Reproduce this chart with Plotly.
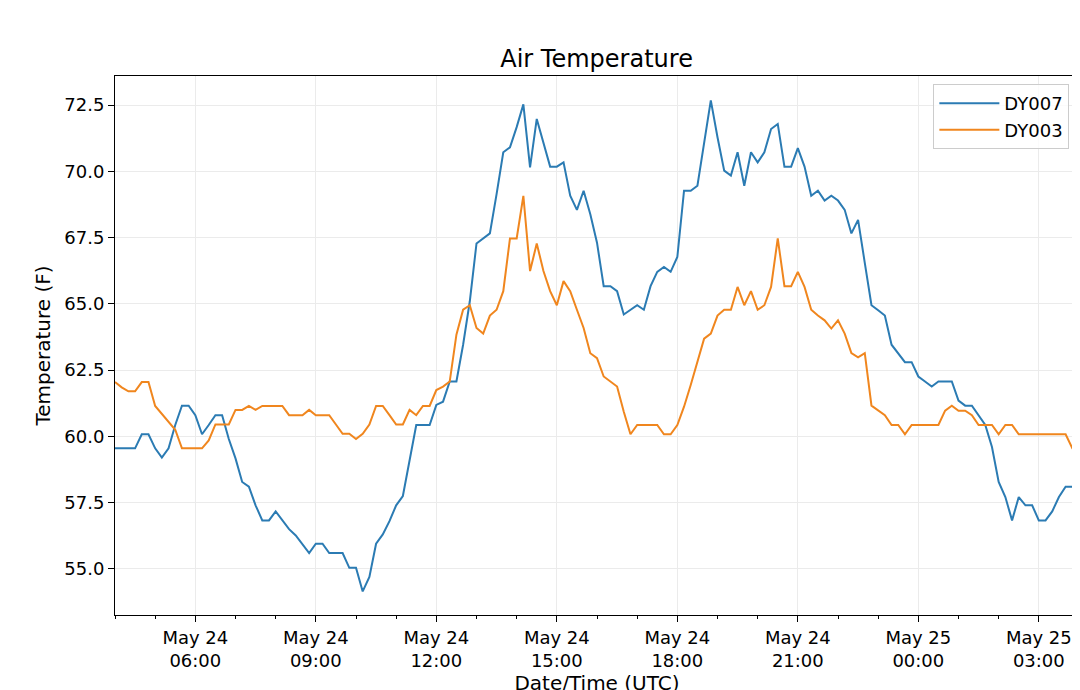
import pandas as pd
import plotly.graph_objects as go

times = pd.date_range("2019-05-24 04:00", periods=145, freq="10min")

dy007 = [59.55, 59.55, 59.55, 59.55, 60.08, 60.08, 59.55, 59.2, 59.55, 60.43, 61.16, 61.16,
         60.8, 60.08, 60.43, 60.8, 60.8, 59.9, 59.17, 58.28, 58.1, 57.4, 56.83, 56.83,
         57.17, 56.83, 56.5, 56.26, 55.95, 55.6, 55.95, 55.95, 55.6, 55.6, 55.6, 55.04,
         55.04, 54.15, 54.7, 55.95, 56.3, 56.8, 57.4, 57.75, 59.04, 60.43, 60.43, 60.43,
         61.19, 61.31, 62.07, 62.07, 63.46, 65.1, 67.28, 67.47, 67.66, 69.14, 70.72, 70.91,
         71.67, 72.53, 70.15, 71.98, 71.1, 70.18, 70.18, 70.34, 69.08, 68.55, 69.27, 68.38,
         67.31, 65.67, 65.67, 65.48, 64.6, 64.78, 64.95, 64.78, 65.67, 66.21, 66.39, 66.21,
         66.77, 69.27, 69.27, 69.46, 71.1, 72.68, 71.29, 70.03, 69.84, 70.72, 69.46,
         70.72, 70.34, 70.72, 71.6, 71.79, 70.18, 70.18, 70.88, 70.18, 69.08, 69.27, 68.9,
         69.08, 68.9, 68.55, 67.66, 68.17, 66.55, 64.95, 64.76, 64.56, 63.46, 63.14, 62.8,
         62.8, 62.26, 62.07, 61.88, 62.07, 62.07, 62.07, 61.35, 61.16, 61.16, 60.8, 60.43,
         59.6, 58.28, 57.71, 56.83, 57.71, 57.4, 57.4, 56.83, 56.83, 57.17, 57.71, 58.1,
         58.1, 57.75]

dy003 = [62.05, 61.85, 61.7, 61.7, 62.05, 62.05, 61.15, 60.85, 60.55, 60.25, 59.55, 59.55,
         59.55, 59.55, 59.85, 60.45, 60.45, 60.45, 61.0, 61.0, 61.15, 61.0, 61.15, 61.15,
         61.15, 61.15, 60.8, 60.8, 60.8, 61.0, 60.8, 60.8, 60.8, 60.45, 60.1, 60.1,
         59.9, 60.1, 60.45, 61.15, 61.15, 60.8, 60.45, 60.45, 61.0, 60.8, 61.15, 61.15,
         61.75, 61.88, 62.07, 63.84, 64.78, 64.95, 64.09, 63.88, 64.56, 64.78, 65.48, 67.47,
         67.47, 69.08, 66.24, 67.28, 66.24, 65.48, 64.95, 65.86, 65.48, 64.78, 64.09, 63.14,
         62.95, 62.26, 62.07, 61.88, 60.93, 60.08, 60.43, 60.43, 60.43, 60.43, 60.08, 60.08,
         60.43, 61.12, 61.94, 62.83, 63.69, 63.88, 64.56, 64.78, 64.78, 65.64, 64.95,
         65.48, 64.78, 64.95, 65.64, 67.47, 65.67, 65.67, 66.21, 65.64, 64.78, 64.56, 64.38,
         64.07, 64.38, 63.88, 63.14, 62.98, 63.14, 61.16, 60.97, 60.8, 60.43, 60.43, 60.08,
         60.43, 60.43, 60.43, 60.43, 60.43, 60.97, 61.16, 60.97, 60.97, 60.8, 60.43, 60.43,
         60.43, 60.08, 60.43, 60.43, 60.08, 60.08, 60.08, 60.08, 60.08, 60.08, 60.08, 60.08,
         59.55, 59.55]

tick_vals = pd.date_range("2019-05-24 06:00", periods=8, freq="3h")
tick_text = [t.strftime("%b %d<br>%H:%M") for t in tick_vals]

fig = go.Figure()
fig.add_trace(go.Scatter(x=times, y=dy007, name="DY007", mode="lines",
                         line=dict(color="#2b7bb3", width=2)))
fig.add_trace(go.Scatter(x=times, y=dy003, name="DY003", mode="lines",
                         line=dict(color="#f0861e", width=2)))

axis_style = dict(showline=True, mirror=True, linecolor="black", linewidth=1,
                  ticks="outside", ticklen=6, tickcolor="black", automargin=False,
                  showgrid=True, gridcolor="#ebebeb", zeroline=False,
                  tickfont=dict(size=18, color="black"))

fig.update_layout(
    title=dict(text="Air Temperature", x=0.545, xanchor="center", y=0.927, yanchor="middle",
               font=dict(size=24, color="black")),
    width=1080, height=690,
    template=None,
    plot_bgcolor="white", paper_bgcolor="white",
    font=dict(family="DejaVu Sans", color="black"),
    margin=dict(l=107, r=9, t=68, b=83),
    legend=dict(x=0.99, y=0.985, xanchor="right", yanchor="top",
                bordercolor="#cccccc", borderwidth=1, bgcolor="rgba(255,255,255,0.8)",
                font=dict(size=18), itemwidth=60),
    xaxis=dict(range=[times[0], times[-1]], tickvals=tick_vals, ticktext=tick_text,
               title=dict(text="Date/Time (UTC)", font=dict(size=20), standoff=2),
               minor=dict(ticks="outside", ticklen=3, dtick=3600000, showgrid=False),
               **axis_style),
    yaxis=dict(range=[53.26, 73.6], tickvals=[55, 57.5, 60, 62.5, 65, 67.5, 70, 72.5],
               ticktext=["55.0", "57.5", "60.0", "62.5", "65.0", "67.5", "70.0", "72.5"],
               title=dict(text="Temperature (F)", font=dict(size=20), standoff=8),
               **axis_style),
)

fig.write_html("out.html")
